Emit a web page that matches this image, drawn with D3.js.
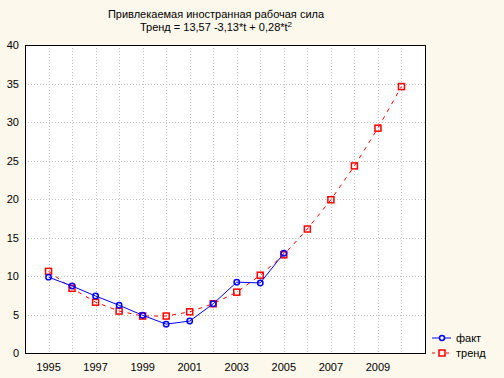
<!DOCTYPE html>
<html><head><meta charset="UTF-8">
<title>Привлекаемая иностранная рабочая сила</title>
<script src="https://d3js.org/d3.v7.min.js"></script>
<style>
  body { margin: 0; background: #fdf8ec; }
  text { font-family: "Liberation Sans", Arial, sans-serif; font-size: 11px; fill: #000; }
</style>
</head>
<body>
<svg width="504" height="378"></svg>
<script>
// data
const years = [1995, 1996, 1997, 1998, 1999, 2000, 2001, 2002, 2003, 2004, 2005];
const fakt = [9.85, 8.7, 7.4, 6.2, 4.9, 3.75, 4.15, 6.4, 9.2, 9.1, 12.95];
const trendYears = [1995, 1996, 1997, 1998, 1999, 2000, 2001, 2002, 2003, 2004, 2005, 2006, 2007, 2008, 2009, 2010];
const trend = [10.6, 8.4, 6.6, 5.45, 4.8, 4.8, 5.35, 6.4, 7.9, 10.1, 12.75, 16.1, 19.9, 24.3, 29.2, 34.6];
const xTicks = [1995, 1997, 1999, 2001, 2003, 2005, 2007, 2009];
const yTicks = [0, 5, 10, 15, 20, 25, 30, 35, 40];

const svg = d3.select("svg");
const plot = {left: 25, right: 425, top: 45, bottom: 353};

const x = d3.scaleLinear().domain([1994, 2011]).range([plot.left, plot.right]);
const y = d3.scaleLinear().domain([0, 40]).range([plot.bottom, plot.top]);

// plot area
svg.append("rect")
  .attr("x", plot.left).attr("y", plot.top)
  .attr("width", plot.right - plot.left).attr("height", plot.bottom - plot.top)
  .attr("fill", "#fff");

// grid
svg.append("g").selectAll("line")
  .data(d3.range(1995, 2011))
  .join("line")
    .attr("x1", d => Math.round(x(d)) + 0.5).attr("x2", d => Math.round(x(d)) + 0.5)
    .attr("y1", plot.top).attr("y2", plot.bottom)
    .attr("stroke", "#c0c0c0").attr("stroke-dasharray", "1,2");
svg.append("g").selectAll("line")
  .data(yTicks.slice(1, -1))
  .join("line")
    .attr("x1", plot.left).attr("x2", plot.right)
    .attr("y1", d => Math.round(y(d)) + 0.5).attr("y2", d => Math.round(y(d)) + 0.5)
    .attr("stroke", "#c0c0c0").attr("stroke-dasharray", "1,2");

// frame
svg.append("rect")
  .attr("x", plot.left + 0.5).attr("y", plot.top + 0.5)
  .attr("width", plot.right - plot.left).attr("height", plot.bottom - plot.top)
  .attr("fill", "none").attr("stroke", "#000");

// axes labels
svg.append("g").selectAll("text")
  .data(yTicks)
  .join("text")
    .attr("x", 19).attr("y", d => y(d) + 4)
    .attr("text-anchor", "end")
    .text(d => d);
svg.append("g").selectAll("text")
  .data(xTicks)
  .join("text")
    .attr("x", d => x(d)).attr("y", 371)
    .attr("text-anchor", "middle")
    .text(d => d);

// title
const title = svg.append("text").attr("text-anchor", "middle");
title.append("tspan").attr("x", 216).attr("y", 18).text("Привлекаемая иностранная рабочая сила");
const t2 = title.append("tspan").attr("x", 216).attr("y", 31);
t2.append("tspan").text("Тренд = 13,57 -3,13*t + 0,28*t");
t2.append("tspan").attr("dy", -4).attr("font-size", "8px").text("2");

// trend
const trendData = trendYears.map((d, i) => [d, trend[i]]);
svg.append("path")
  .datum(trendData)
  .attr("d", d3.line().x(d => x(d[0])).y(d => y(d[1])))
  .attr("fill", "none").attr("stroke", "#f00").attr("stroke-width", 1)
  .attr("stroke-dasharray", "4,5");
svg.append("g").selectAll("rect")
  .data(trendData)
  .join("rect")
    .attr("x", d => x(d[0]) - 3).attr("y", d => y(d[1]) - 3)
    .attr("width", 6).attr("height", 6)
    .attr("fill", "none").attr("stroke", "#f00").attr("stroke-width", 1.5);

// fakt
const faktData = years.map((d, i) => [d, fakt[i]]);
svg.append("path")
  .datum(faktData)
  .attr("d", d3.line().x(d => x(d[0])).y(d => y(d[1])))
  .attr("fill", "none").attr("stroke", "#00f").attr("stroke-width", 1);
svg.append("g").selectAll("circle")
  .data(faktData)
  .join("circle")
    .attr("cx", d => x(d[0])).attr("cy", d => y(d[1]))
    .attr("r", 2.7)
    .attr("fill", "none").attr("stroke", "#00f").attr("stroke-width", 1.5);

// legend
const lg = svg.append("g");
lg.append("line").attr("x1", 432).attr("x2", 451).attr("y1", 338).attr("y2", 338).attr("stroke", "#00f");
lg.append("circle").attr("cx", 442).attr("cy", 338).attr("r", 2.5).attr("fill", "#fff").attr("stroke", "#00f").attr("stroke-width", 1.5);
lg.append("text").attr("x", 456).attr("y", 342).text("факт");
lg.append("line").attr("x1", 432).attr("x2", 451).attr("y1", 353).attr("y2", 353).attr("stroke", "#f00").attr("stroke-dasharray", "3,4");
lg.append("rect").attr("x", 439).attr("y", 350).attr("width", 6).attr("height", 6).attr("fill", "#fdf8ec").attr("stroke", "#f00").attr("stroke-width", 1.5);
lg.append("text").attr("x", 456).attr("y", 357).text("тренд");
</script>
</body></html>
